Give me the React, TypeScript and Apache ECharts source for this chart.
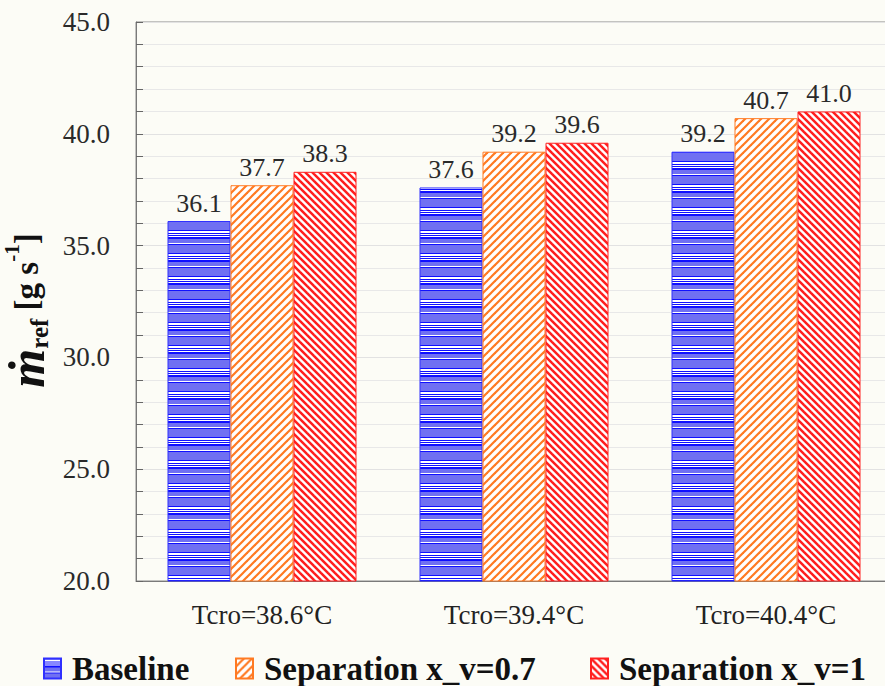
import React, { useEffect, useRef } from "react";
import * as echarts from "echarts";

const categories = ["Tcro=38.6°C", "Tcro=39.4°C", "Tcro=40.4°C"];
const seriesNames = ["Baseline", "Separation x_v=0.7", "Separation x_v=1"];
const baseline = [36.1, 37.6, 39.2];
const sep07 = [37.7, 39.2, 40.7];
const sep1 = [38.3, 39.6, 41.0];

const FONT = "'Liberation Serif', 'Times New Roman', 'DejaVu Serif', serif";

function blueTile(): string {
  const c = document.createElement("canvas");
  c.width = 8;
  c.height = 23;
  const g = c.getContext("2d")!;
  g.fillStyle = "#7070f2";
  g.fillRect(0, 0, 8, 23);
  const rows: [number, string][] = [
    [0, "#1010ff"], [1, "#ffffff"], [2, "#ffffff"], [3, "#1010ff"], [4, "#ffffff"],
    [5, "#1010ff"], [6, "#ffffff"], [7, "#1010ff"], [8, "#1010ff"],
    [13, "#ffffff"], [14, "#1010ff"],
  ];
  rows.forEach(([y, col]) => {
    g.fillStyle = col;
    g.fillRect(0, y, 8, 1);
  });
  return c.toDataURL();
}

function hatchTile(size: number, color: string, forward: boolean, lw: number): string {
  const c = document.createElement("canvas");
  c.width = size;
  c.height = size;
  const g = c.getContext("2d")!;
  g.fillStyle = "#ffffff";
  g.fillRect(0, 0, size, size);
  g.strokeStyle = color;
  g.lineWidth = lw;
  g.lineCap = "square";
  for (let k = -1; k <= 1; k++) {
    g.beginPath();
    if (forward) {
      g.moveTo(k * size, size);
      g.lineTo(k * size + size, 0);
    } else {
      g.moveTo(k * size, 0);
      g.lineTo(k * size + size, size);
    }
    g.stroke();
  }
  return c.toDataURL();
}

export default function App() {
  const ref = useRef<HTMLDivElement>(null);
  useEffect(() => {
    if (!ref.current) return;
    const chart = echarts.init(ref.current, undefined, { renderer: "svg" });
    const bluePat = { image: blueTile(), repeat: "repeat" };
    const orangePat = { image: hatchTile(8, "#ff7a22", true, 2.2), repeat: "repeat" };
    const redPat = { image: hatchTile(7, "#ff1e1e", false, 2.5), repeat: "repeat" };

    const labelStyle = {
      show: true,
      position: "top",
      distance: 5,
      fontFamily: FONT,
      fontSize: 26,
      color: "#2a2a2a",
      formatter: (p: any) => Number(p.value).toFixed(1),
    };

    const mk = (name: string, data: number[], color: any, border: string) => ({
      name,
      type: "bar",
      data,
      barWidth: 63,
      barGap: "0%",
      itemStyle: { color, borderColor: border, borderWidth: 1 },
      label: labelStyle,
      emphasis: { disabled: true },
    });

    const legendText = { fontFamily: FONT, fontSize: 33, fontWeight: "bold", color: "#111", lineHeight: 30, padding: [0, 0, 0, 6] };
    const legendAt = (left: number, name: string) => ({
      left,
      top: 652,
      padding: 0,
      itemWidth: 17,
      itemHeight: 20,
      itemGap: 0,
      icon: "rect",
      selectedMode: false,
      textStyle: legendText,
      data: [name],
    });

    chart.setOption({
      animation: false,
      backgroundColor: "#fcfcf6",
      textStyle: { fontFamily: FONT },
      grid: {
        left: 136, top: 22, width: 756, height: 559,
        outerBoundsMode: "none", containLabel: false,
        show: true, borderColor: "#8a8a8a", borderWidth: 1, backgroundColor: "transparent",
      },
      legend: [
        legendAt(43, seriesNames[0]),
        legendAt(235, seriesNames[1]),
        legendAt(590, seriesNames[2]),
      ],
      xAxis: {
        type: "category",
        data: categories,
        axisLine: { lineStyle: { color: "#7a7a7a" } },
        axisTick: { show: false },
        axisLabel: { fontFamily: FONT, fontSize: 27, color: "#222", margin: 20 },
      },
      yAxis: {
        type: "value",
        min: 20,
        max: 45,
        interval: 5,
        axisLine: { show: true, lineStyle: { color: "#7a7a7a" } },
        axisTick: { show: true, inside: true, length: 7, lineStyle: { color: "#666" } },
        minorTick: { show: true, splitNumber: 5, length: 7, lineStyle: { color: "#666" } },
        splitLine: { show: true, lineStyle: { color: "#e2e2e2" } },
        minorSplitLine: { show: true, lineStyle: { color: "#e8e8e8" } },
        axisLabel: { fontFamily: FONT, fontSize: 27, color: "#2a2a2a", margin: 26, formatter: (v: number) => v.toFixed(1) },
        name: "{m|ṁ}{sub|ref}{t| [g s}{sup|-1}{e|]}",
        nameLocation: "middle",
        nameGap: 84,
        nameRotate: 90,
        nameTextStyle: {
          rich: {
            m: { fontFamily: FONT, fontSize: 50, fontWeight: "bold", fontStyle: "italic", color: "#111" },
            sub: { fontFamily: FONT, fontSize: 25, fontWeight: "bold", color: "#111", verticalAlign: "bottom", padding: [16, 0, 0, 0] },
            t: { fontFamily: FONT, fontSize: 33, fontWeight: "bold", color: "#111" },
            e: { fontFamily: FONT, fontSize: 33, fontWeight: "bold", color: "#111", padding: [0, 18, 0, 0] },
            sup: { fontFamily: FONT, fontSize: 21, fontWeight: "bold", color: "#111", verticalAlign: "top", padding: [0, 0, 18, 0] },
          },
        },
      },
      series: [
        mk(seriesNames[0], baseline, bluePat, "#3030ff"),
        mk(seriesNames[1], sep07, orangePat, "#ff7a22"),
        mk(seriesNames[2], sep1, redPat, "#ff2020"),
      ],
    });
    return () => chart.dispose();
  }, []);
  return <div ref={ref} style={{ position: "fixed", left: 0, top: 0, width: 885, height: 686 }} />;
}
